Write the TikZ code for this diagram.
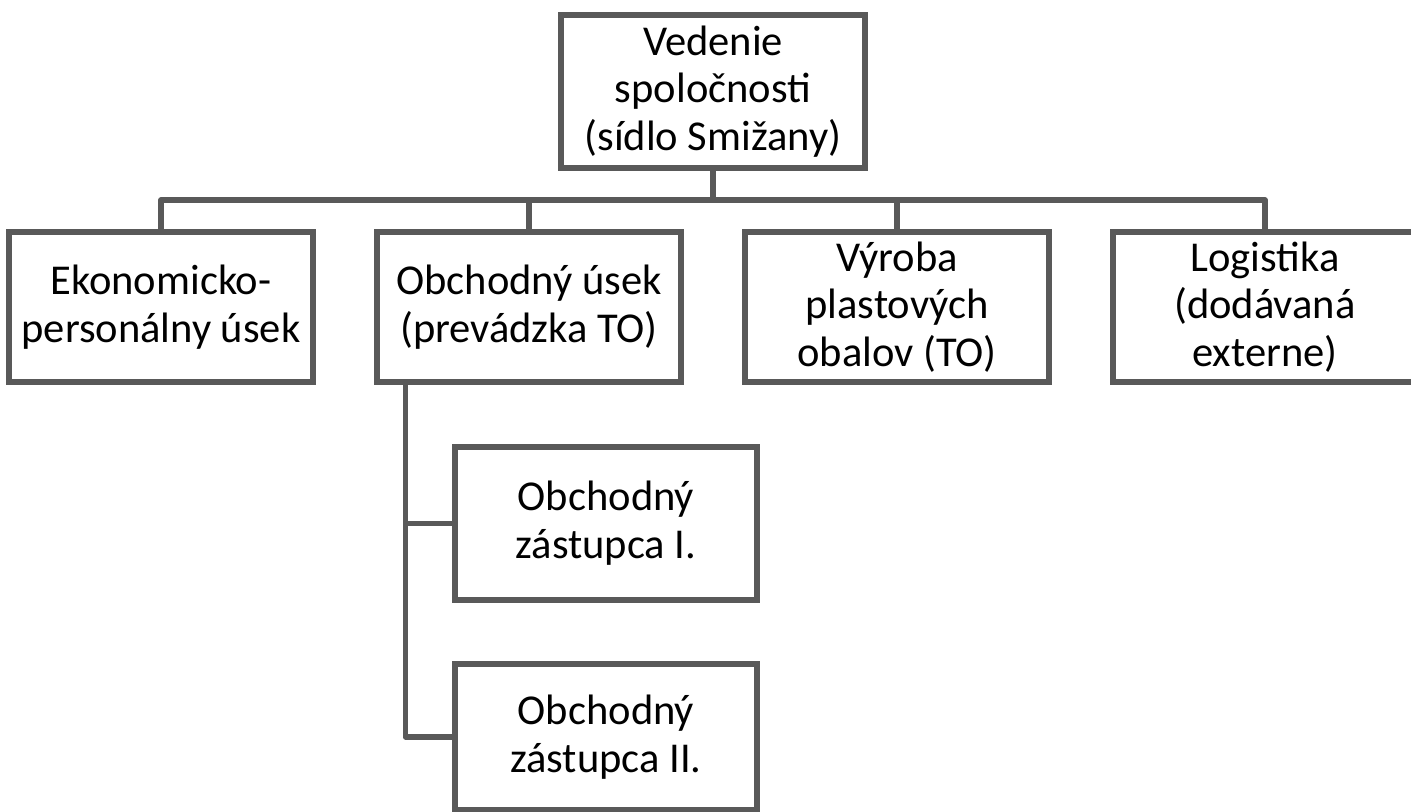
\documentclass[tikz,border=0pt]{standalone}
\usepackage{fontspec}
\setmainfont{Carlito}
\usepackage{tikz}
\usetikzlibrary{calc,positioning}

\definecolor{linegray}{RGB}{89,89,89}

\tikzset{
	unit/.style={draw=linegray, line width=3pt, fill=white, align=center,
		inner sep=0pt, font=\fontsize{24.2}{27.2}\selectfont},
	headbox/.style={unit, minimum width=6.08cm, minimum height=3.06cm},
	deptbox/.style={unit, minimum width=6.08cm, minimum height=3.0cm},
	subbox/.style={unit, minimum width=6.04cm, minimum height=3.0cm},
	link/.style={draw=linegray, line width=3pt, line join=round},
}

\begin{document}
\begin{tikzpicture}[x=0.02cm, y=-0.02cm]

% frame %{{{2

	\useasboundingbox (0,0) rectangle (1411,812);

% parameters %{{{2

	\def\busy{200}
	\def\stemoff{31}

% boxes %{{{2

	\node[headbox] (head) at (713,91.5) {Vedenie\\spoločnosti\\(sídlo Smižany)};

	\node[deptbox] (eko)  at (161,307)  {Ekonomicko-\\personálny úsek};
	\node[deptbox] (obch) at (529,307)  {Obchodný úsek\\(prevádzka TO)};
	\node[deptbox] (vyr)  at (897,307)  {Výroba\\plastových\\obalov (TO)};
	\node[deptbox] (log)  at (1265,307) {Logistika\\(dodávaná\\externe)};

	\node[subbox, minimum height=3.06cm] (zast1) at (606,523.5) {Obchodný\\zástupca I.};
	\node[subbox, minimum height=2.92cm] (zast2) at (606,737)   {Obchodný\\zástupca II.};

% coordinates %{{{2

	\coordinate (hub) at (head.south |- 0,\busy);
	\coordinate (stem) at ($(obch.south west)+(\stemoff,0)$);

% links %{{{2

	\draw[link] (head.south) -- (hub);
	\draw[link] (eko.north) |- (hub) -| (log.north);
	\draw[link] (obch.north) -- (obch.north |- hub);
	\draw[link] (vyr.north) -- (vyr.north |- hub);

	\draw[link] (stem) |- (zast2.west);
	\draw[link] (stem |- zast1.west) -- (zast1.west);

% closing %{{{2

\end{tikzpicture}
\end{document}
